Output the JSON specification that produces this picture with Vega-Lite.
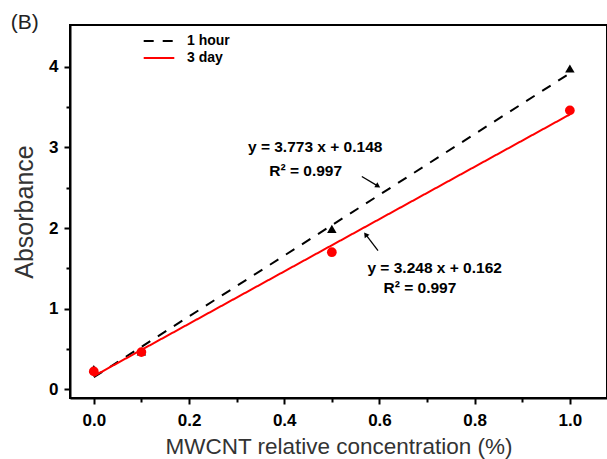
{
  "$schema": "https://vega.github.io/schema/vega-lite/v6.json",
  "width": 537,
  "height": 373,
  "autosize": {"type": "none"},
  "padding": {"left": 70, "top": 25, "right": 0, "bottom": 61},
  "config": {
    "font": "Liberation Sans",
    "view": {"stroke": "black", "strokeWidth": 2},
    "axis": {
      "domainColor": "black", "domainWidth": 2, "tickColor": "black", "tickWidth": 2,
      "grid": false, "labelFont": "Liberation Sans", "labelFontWeight": "bold", "labelFontSize": 17,
      "labelColor": "black", "titleFont": "Liberation Sans", "titleFontWeight": "normal",
      "titleColor": "#333333"
    }
  },
  "datasets": {
    "points": [
      {"series": "1 hour", "conc": 0.0, "abs": 0.25},
      {"series": "1 hour", "conc": 0.1, "abs": 0.47},
      {"series": "1 hour", "conc": 0.5, "abs": 1.99},
      {"series": "1 hour", "conc": 1.0, "abs": 3.98},
      {"series": "3 day", "conc": 0.0, "abs": 0.22},
      {"series": "3 day", "conc": 0.1, "abs": 0.46},
      {"series": "3 day", "conc": 0.5, "abs": 1.70},
      {"series": "3 day", "conc": 1.0, "abs": 3.46}
    ],
    "fits": [
      {"series": "1 hour", "conc": 0.0, "abs": 0.148},
      {"series": "1 hour", "conc": 1.0, "abs": 3.921},
      {"series": "3 day", "conc": 0.0, "abs": 0.162},
      {"series": "3 day", "conc": 1.0, "abs": 3.41}
    ],
    "notes": [
      {"conc": 0.465, "abs": 3.0, "label": "y = 3.773 x + 0.148"},
      {"conc": 0.445, "abs": 2.71, "label": "R² = 0.997"},
      {"conc": 0.716, "abs": 1.50, "label": "y = 3.248 x + 0.162"},
      {"conc": 0.685, "abs": 1.25, "label": "R² = 0.997"}
    ],
    "arrows": [
      {"conc": 0.563, "abs": 2.64, "conc2": 0.597, "abs2": 2.52},
      {"conc": 0.597, "abs": 1.72, "conc2": 0.571, "abs2": 1.92}
    ],
    "panel": [{"conc": -0.145, "abs": 4.55, "label": "(B)"}]
  },
  "encoding": {
    "x": {
      "field": "conc", "type": "quantitative",
      "scale": {"domain": [-0.05, 1.078], "nice": false, "zero": false},
      "axis": {
        "title": "MWCNT relative concentration (%)", "titleFontSize": 22.5, "titlePadding": 7,
        "values": [0, 0.1, 0.2, 0.3, 0.4, 0.5, 0.6, 0.7, 0.8, 0.9, 1.0],
        "labelExpr": "round(datum.value*10)%2==0 ? format(datum.value,'.1f') : ''",
        "labelPadding": 8,
        "tickSize": {"condition": {"test": "round(datum.value*10)%2==0", "value": 6}, "value": 4}
      }
    },
    "y": {
      "field": "abs", "type": "quantitative",
      "scale": {"domain": [-0.11, 4.52], "nice": false, "zero": false},
      "axis": {
        "title": "Absorbance", "titleFontSize": 25, "titlePadding": 11,
        "values": [0, 0.5, 1, 1.5, 2, 2.5, 3, 3.5, 4],
        "labelExpr": "datum.value == floor(datum.value) ? format(datum.value,'d') : ''",
        "labelPadding": 6,
        "tickSize": {"condition": {"test": "datum.value == floor(datum.value)", "value": 6}, "value": 4}
      }
    }
  },
  "layer": [
    {
      "data": {"name": "fits"},
      "mark": {"type": "line", "strokeWidth": 2},
      "encoding": {
        "color": {
          "field": "series", "type": "nominal",
          "scale": {"domain": ["1 hour", "3 day"], "range": ["black", "red"]},
          "legend": {
            "title": null, "orient": "none", "legendX": 79, "legendY": 6,
            "symbolType": "M-1.7,0L1.7,0", "symbolSize": 324, "symbolStrokeWidth": 2,
            "labelFontWeight": "bold", "labelFontSize": 14, "labelColor": "black",
            "rowPadding": 0, "labelOffset": 18
          }
        },
        "strokeDash": {
          "field": "series", "type": "nominal",
          "scale": {"domain": ["1 hour", "3 day"], "range": [[10, 9], [1, 0]]},
          "legend": {
            "title": null, "orient": "none", "legendX": 79, "legendY": 6,
            "symbolType": "M-1.7,0L1.7,0", "symbolSize": 324, "symbolStrokeWidth": 2,
            "labelFontWeight": "bold", "labelFontSize": 14, "labelColor": "black",
            "rowPadding": 0, "labelOffset": 18
          }
        }
      }
    },
    {
      "data": {"name": "points"},
      "transform": [{"filter": "datum.series == '1 hour'"}],
      "mark": {"type": "point", "shape": "triangle-up", "filled": true, "size": 90, "color": "black", "opacity": 1}
    },
    {
      "data": {"name": "points"},
      "transform": [{"filter": "datum.series == '3 day'"}],
      "mark": {"type": "point", "shape": "circle", "filled": true, "size": 95, "color": "red", "opacity": 1}
    },
    {
      "data": {"name": "notes"},
      "mark": {"type": "text", "fontWeight": "bold", "fontSize": 15.5, "color": "black"},
      "encoding": {"text": {"field": "label"}}
    },
    {
      "data": {"name": "arrows"},
      "mark": {"type": "rule", "strokeWidth": 1.3, "color": "black"},
      "encoding": {"x2": {"field": "conc2"}, "y2": {"field": "abs2"}}
    },
    {
      "data": {"name": "arrows"},
      "transform": [{"filter": "datum.conc < 0.58"}],
      "mark": {"type": "point", "shape": "triangle-up", "filled": true, "size": 35, "angle": 121, "color": "black", "opacity": 1},
      "encoding": {"x": {"field": "conc2", "type": "quantitative"}, "y": {"field": "abs2", "type": "quantitative"}}
    },
    {
      "data": {"name": "arrows"},
      "transform": [{"filter": "datum.conc > 0.58"}],
      "mark": {"type": "point", "shape": "triangle-up", "filled": true, "size": 35, "angle": 324, "color": "black", "opacity": 1},
      "encoding": {"x": {"field": "conc2", "type": "quantitative"}, "y": {"field": "abs2", "type": "quantitative"}}
    },
    {
      "data": {"name": "panel"},
      "mark": {"type": "text", "fontSize": 21, "color": "#222222", "clip": false},
      "encoding": {"text": {"field": "label"}}
    }
  ]
}
